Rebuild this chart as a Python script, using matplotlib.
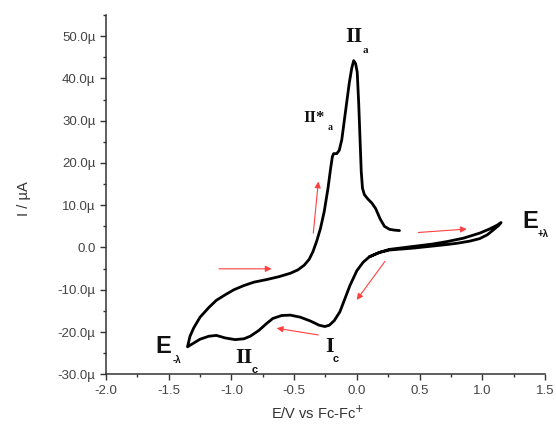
import matplotlib
matplotlib.use("Agg")
import matplotlib.pyplot as plt
from matplotlib.ticker import MultipleLocator, FuncFormatter

# ---- data: cyclic voltammogram (E in V vs Fc/Fc+, I in µA) ----
E = [0.10, 0.18, 0.26, 0.45, 0.60, 0.72, 0.85, 0.98, 1.06, 1.12, 1.15,
     1.13, 1.09, 1.04, 0.98, 0.90, 0.80, 0.72, 0.45, 0.26, 0.18,
     0.10, 0.05, 0.00, -0.055, -0.10, -0.135, -0.18, -0.22, -0.255, -0.30,
     -0.37, -0.45, -0.53, -0.60, -0.67, -0.72, -0.78, -0.85, -0.90, -0.97,
     -1.05, -1.12, -1.18, -1.25, -1.30, -1.35,
     -1.33, -1.30, -1.25, -1.18, -1.12, -1.05, -0.98, -0.90, -0.82, -0.72,
     -0.62, -0.53, -0.47, -0.42, -0.38, -0.35, -0.32, -0.29, -0.26, -0.23,
     -0.21, -0.195, -0.185, -0.16, -0.14, -0.12, -0.10, -0.08, -0.06, -0.04,
     -0.025, -0.01, 0.003, 0.015, 0.025, 0.035, 0.045, 0.06, 0.09, 0.12,
     0.15, 0.185, 0.22, 0.26, 0.30, 0.34]
I = [-2.2, -1.15, -0.45, 0.25, 0.8, 1.4, 2.2, 3.4, 4.4, 5.3, 5.9,
     5.2, 4.2, 3.0, 2.1, 1.5, 1.0, 0.7, -0.15, -0.6, -1.2,
     -2.2, -3.5, -5.5, -9.0, -12.5, -15.2, -17.3, -18.4, -18.7, -18.4,
     -17.4, -16.5, -16.0, -16.1, -16.8, -18.0, -19.6, -21.0, -21.6, -21.8,
     -21.4, -20.8, -21.0, -21.7, -22.6, -23.5,
     -21.0, -19.0, -16.5, -14.2, -12.5, -11.2, -10.0, -9.0, -8.2, -7.6,
     -6.9, -6.1, -5.3, -4.2, -2.8, -1.0, 1.5, 4.5, 8.5, 14.0,
     18.5, 21.5, 22.2, 22.2, 23.0, 25.5, 30.0, 34.5, 39.0, 42.5,
     44.2, 43.5, 41.5, 34.0, 26.0, 18.0, 14.0, 12.5, 11.4, 10.5,
     9.2, 6.8, 5.0, 4.3, 4.1, 4.0]

# scan-direction arrows: (E start, I start, E end, I end)
arrows = [(-1.10, -5.05, -0.68, -5.05),
          (-0.347, 3.4, -0.307, 15.6),
          (0.49, 3.55, 0.876, 4.36),
          (0.224, -3.3, -0.001, -12.4),
          (-0.307, -20.7, -0.639, -19.1)]

x_ticks = [-2.0, -1.5, -1.0, -0.5, 0.0, 0.5, 1.0, 1.5]
y_ticks = [-30, -20, -10, 0, 10, 20, 30, 40, 50]

# peak labels: (text, E, I, family, size, ha)
labels = [("II", -0.027, 48.5, "Liberation Serif", 16, "center"),
          ("a", 0.049, 46.1, "Liberation Serif", 8, "left"),
          ("II*", -0.429, 29.8, "Liberation Serif", 12, "left"),
          ("a", -0.230, 27.9, "Liberation Serif", 7, "left"),
          ("E", -1.609, -24.95, "Liberation Sans", 17, "left"),
          ("-λ", -1.466, -27.3, "Liberation Sans", 7, "left"),
          ("II", -0.972, -27.3, "Liberation Serif", 16, "left"),
          ("c", -0.836, -29.7, "Liberation Sans", 8, "left"),
          ("I", -0.254, -24.7, "Liberation Serif", 16, "left"),
          ("c", -0.190, -27.1, "Liberation Sans", 8, "left"),
          ("E", 1.317, 4.67, "Liberation Sans", 17, "left"),
          ("+λ", 1.444, 2.5, "Liberation Sans", 7, "left")]

plt.rcParams['font.family'] = ['Liberation Sans', 'DejaVu Sans']

fig = plt.figure(figsize=(5.56, 4.32), dpi=100)
ax = fig.add_axes([0.1906, 0.1336, 0.7896, 0.8317])

ax.plot(E, I, color='black', lw=2.0, solid_joinstyle='round', solid_capstyle='round')

for x0, y0, x1, y1 in arrows:
    ax.annotate('', xy=(x1, y1), xytext=(x0, y0),
                arrowprops=dict(arrowstyle='-|>', color='#ff4040', lw=0.8,
                                mutation_scale=9, shrinkA=0, shrinkB=0))

for txt, x, y, fam, sz, ha in labels:
    ax.text(x, y, txt, fontfamily=fam, fontsize=sz, fontweight='bold',
            ha=ha, va='baseline', color='#111111', clip_on=False)

ax.set_xlim(-2.0, 1.5)
ax.set_ylim(-30, 55)
ax.set_xticks(x_ticks)
ax.set_yticks(y_ticks)
ax.xaxis.set_minor_locator(MultipleLocator(0.25))
ax.yaxis.set_minor_locator(MultipleLocator(5))
ax.xaxis.set_major_formatter(FuncFormatter(lambda v, p: f"{v:.1f}"))
ax.yaxis.set_major_formatter(FuncFormatter(lambda v, p: "0.0" if abs(v) < 1e-9 else f"{v:.1f}µ"))

for s in ['top', 'right']:
    ax.spines[s].set_visible(False)
for s in ['left', 'bottom']:
    ax.spines[s].set_linewidth(1.1)
    ax.spines[s].set_color('#333333')

ax.tick_params(which='major', direction='out', length=4.5, width=1.0,
               colors='#333333', labelsize=9.5, labelcolor='#444444', pad=3)
ax.tick_params(which='minor', direction='out', length=2.5, width=1.0, colors='#333333')

ax.set_xlabel("E/V vs Fc-Fc$^{+}$", fontsize=10.5, color='#333333')
ax.set_ylabel("I / µA", fontsize=10.5, color='#333333')
ax.xaxis.set_label_coords(0.483, -0.085)
ax.yaxis.set_label_coords(-0.171, 0.49)

fig.savefig("out.png", dpi=100)
